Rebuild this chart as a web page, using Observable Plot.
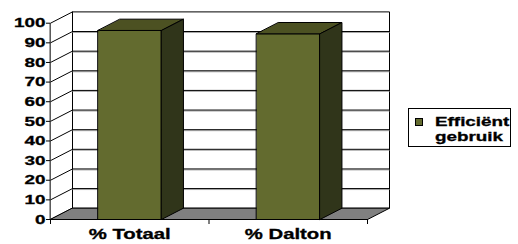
<!DOCTYPE html>
<html><head><meta charset="utf-8">
<script src="https://cdn.jsdelivr.net/npm/d3@7"></script>
<script src="https://cdn.jsdelivr.net/npm/@observablehq/plot@0.6"></script>
<style>
body{margin:0;background:#fff;font-family:"Liberation Sans",Arial,sans-serif}
#wrap{position:relative;width:518px;height:244px;overflow:hidden}
#legend{position:absolute;left:408px;top:108px;width:101px;height:37px;border:1px solid #000;background:#fff}
#legend .sw{position:absolute;left:6px;top:9px;width:6px;height:6px;border:1px solid #000;background:#636b2f}
#legend .t{position:absolute;left:26px;font-size:13px;font-weight:bold;line-height:14.5px;white-space:nowrap;transform:scaleX(1.45);transform-origin:left center;-webkit-text-stroke:0.3px #000}
</style>
</head><body><div id="wrap"></div>
<script>
const categories = ["% Totaal", "% Dalton"];
const values = [96.3, 94.6];
const yTicks = [0, 10, 20, 30, 40, 50, 60, 70, 80, 90, 100];
const seriesName = ["Efficiënt", "gebruik"];

// oblique depth (in data units of x and y)
const DX = 22 / 158.5, DY = 11.3 / 1.963;
const P = (x, y, z) => ({x: x + z * DX, y: y + z * DY});
const poly = (id, pts) => pts.map(([x, y, z]) => ({id, ...P(x, y, z)}));

const n = categories.length, yMax = yTicks[yTicks.length - 1];
const backWall = poly("back", [[0,0,1],[n,0,1],[n,yMax,1],[0,yMax,1]]);
const leftWall = poly("left", [[0,0,0],[0,0,1],[0,yMax,1],[0,yMax,0]]);
const floor = poly("floor", [[0,0,0],[n,0,0],[n,0,1],[0,0,1]]);
const gridBack = yTicks.filter(v => v > 0 && v < yMax).map(v => ({a: P(0, v, 1), b: P(n, v, 1)}));
const gridLeft = yTicks.filter(v => v > 0 && v < yMax).map(v => ({a: P(0, v, 0), b: P(0, v, 1)}));

const hw = 0.2, zb = 1;
const fronts = [], tops = [], sides = [];
values.forEach((v, i) => {
  const x0 = i + 0.5 - hw, x1 = i + 0.5 + hw;
  fronts.push(...poly("f" + i, [[x0,0,0],[x1,0,0],[x1,v,0],[x0,v,0]]));
  tops.push(...poly("t" + i, [[x0,v,0],[x1,v,0],[x1,v,zb],[x0,v,zb]]));
  sides.push(...poly("s" + i, [[x1,0,0],[x1,0,zb],[x1,v,zb],[x1,v,0]]));
});
const labels = categories.map((c, i) => ({x: i + 0.5, label: c}));

const face = (data, fill) => Plot.line(data, {x: "x", y: "y", z: "id", curve: "linear-closed", fill, stroke: "#000", strokeWidth: 1});

const chart = Plot.plot({
  width: 518, height: 244,
  marginLeft: 50, marginRight: 151, marginTop: 22.7, marginBottom: 25,
  style: {fontFamily: "'Liberation Sans', Arial, sans-serif", background: "#fff", color: "#000"},
  x: {type: "linear", domain: [0, n], axis: null},
  y: {domain: [0, yMax], axis: null},
  marks: [
    face(backWall, "#fff"),
    face(leftWall, "#fff"),
    Plot.link(gridBack, {x1: d => d.a.x, y1: d => d.a.y, x2: d => d.b.x, y2: d => d.b.y, stroke: "#aaa", dy: 1}),
    Plot.link(gridBack, {x1: d => d.a.x, y1: d => d.a.y, x2: d => d.b.x, y2: d => d.b.y, stroke: "#000"}),
    Plot.link(gridLeft, {x1: d => d.a.x, y1: d => d.a.y, x2: d => d.b.x, y2: d => d.b.y, stroke: "#000"}),
    face(floor, "#808080"),
    face(fronts, "#636b2f"),
    face(tops, "#4c5122"),
    face(sides, "#30351a"),
    Plot.axisY(yTicks, {ticks: yTicks, tickSize: 4, tickPadding: 1, fontSize: 13, fontWeight: "bold", label: null, stroke: "#000"}),
    Plot.axisX([0, 1, 2], {ticks: [0, 1, 2], tickSize: 5, tickFormat: () => "", label: null, stroke: "#000"}),
    Plot.text(labels, {x: "x", y: 0, text: "label", dy: 15, fontSize: 14, fontWeight: "bold", fill: "#000", lineAnchor: "middle"})
  ]
});
const wrap = document.getElementById("wrap");
wrap.appendChild(chart);
chart.querySelectorAll("text").forEach(t => {
  if (!t.textContent) return;
  const len = t.getComputedTextLength();
  t.setAttribute("textLength", (len * 1.45).toFixed(1));
  t.setAttribute("lengthAdjust", "spacingAndGlyphs");
  t.style.stroke = "#000";
  t.style.strokeWidth = "0.3px";
});
const leg = document.createElement("div");
leg.id = "legend";
leg.innerHTML = `<div class="sw"></div><div class="t" style="top:6px">${seriesName[0]}</div><div class="t" style="top:20.5px">${seriesName[1]}</div>`;
wrap.appendChild(leg);
</script>
</body></html>
